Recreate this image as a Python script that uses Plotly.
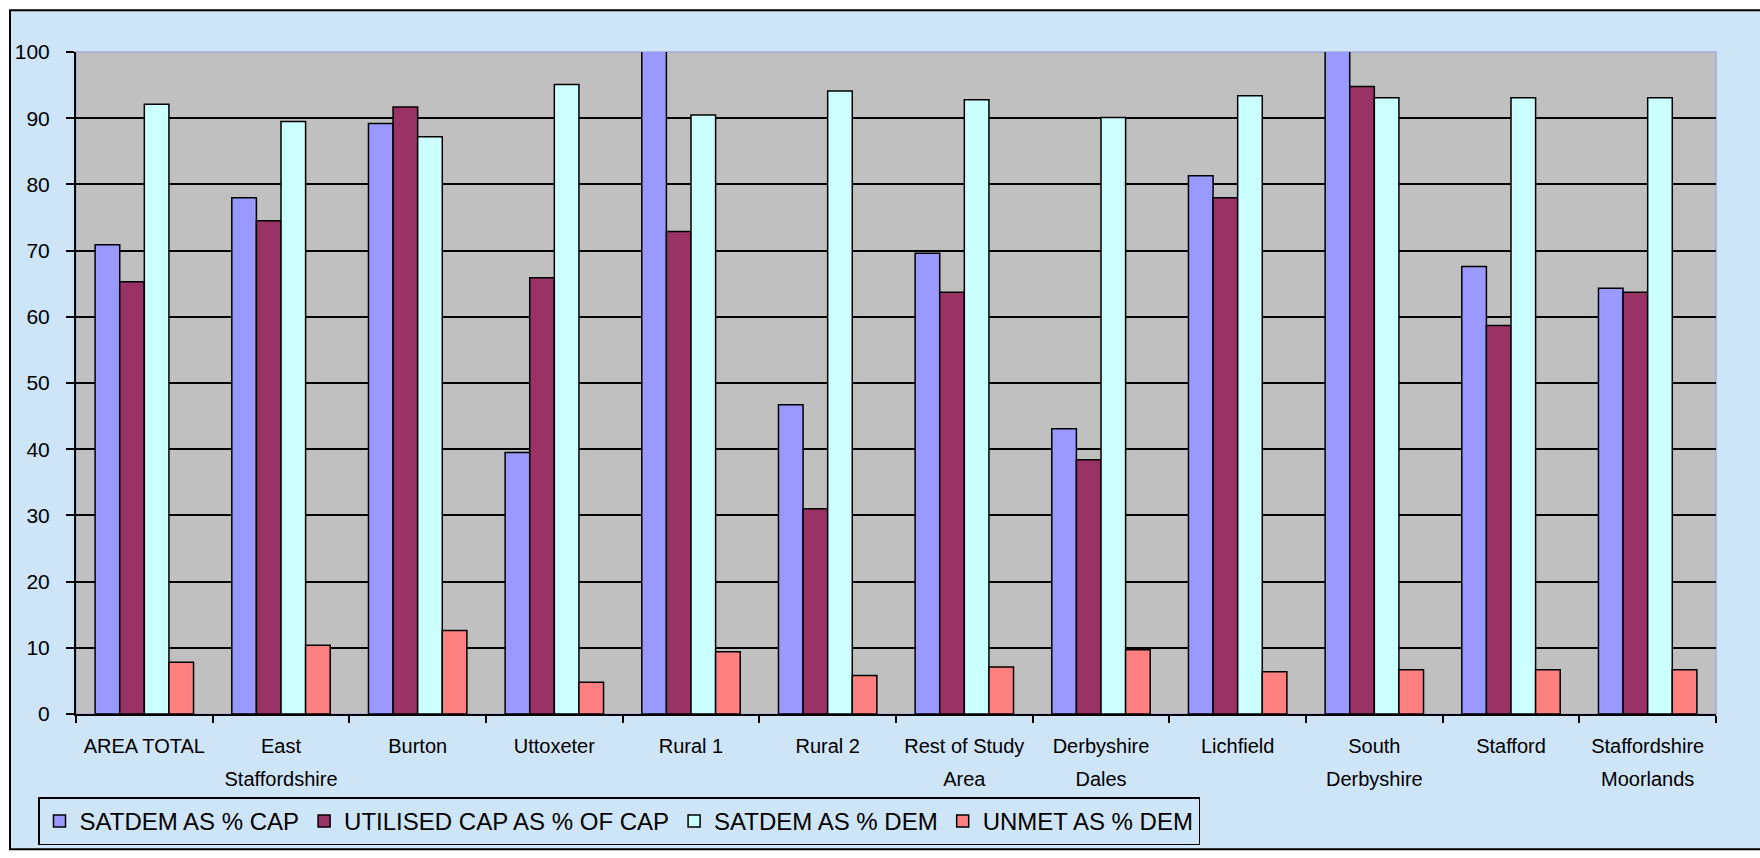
import plotly.graph_objects as go

# Study areas along the x axis
categories = [
    "AREA TOTAL", "East<br>Staffordshire", "Burton", "Uttoxeter", "Rural 1",
    "Rural 2", "Rest of Study<br>Area", "Derbyshire<br>Dales", "Lichfield",
    "South<br>Derbyshire", "Stafford", "Staffordshire<br>Moorlands",
]

# Percentages per area for each series
satdem_cap = [70.9, 78.0, 89.2, 39.5, 100.8, 46.7, 69.6, 43.1, 81.3, 100.8, 67.6, 64.3]
utilised_cap = [65.3, 74.5, 91.7, 65.9, 72.9, 31.0, 63.7, 38.4, 78.0, 94.8, 58.7, 63.7]
satdem_dem = [92.1, 89.5, 87.2, 95.1, 90.5, 94.1, 92.8, 90.1, 93.4, 93.1, 93.1, 93.1]
unmet_dem = [7.8, 10.4, 12.6, 4.8, 9.4, 5.8, 7.1, 9.7, 6.4, 6.7, 6.7, 6.7]

series_names = ["SATDEM AS % CAP", "UTILISED CAP AS % OF CAP", "SATDEM AS % DEM", "UNMET AS % DEM"]
series_values = [satdem_cap, utilised_cap, satdem_dem, unmet_dem]
series_colors = ["#9999FF", "#993366", "#CCFFFF", "#FF8080"]

y_ticks = [0, 10, 20, 30, 40, 50, 60, 70, 80, 90, 100]

FONT = "Liberation Sans, Arial, sans-serif"
CHART_BG = "#CEE4F7"
PLOT_BG = "#C0C0C0"

W, H = 1760, 858
L, R, T, B = 76, 44, 52, 140
pw, ph = W - L - R, H - T - B


def px_x(p):
    return (p - L) / pw


def px_y(p):
    return (H - B - p) / ph


# category labels: 20px glyphs on a wider line pitch
tick_text = [
    "<br>".join("<span style='font-size:20px'>%s</span>" % part for part in c.split("<br>"))
    for c in categories
]

fig = go.Figure()
for name, vals, col in zip(series_names, series_values, series_colors):
    fig.add_trace(go.Bar(
        x=categories, y=vals, name=name,
        marker=dict(color=col, line=dict(color="black", width=1.5)),
        cliponaxis=False,
    ))

shapes = [
    # chart area frame
    dict(type="rect", xref="paper", yref="paper", layer="below",
         x0=px_x(10), x1=px_x(1775), y0=px_y(854), y1=px_y(10),
         fillcolor=CHART_BG, line=dict(color="black", width=2)),
    # grey plot area with pale edge
    dict(type="rect", xref="x domain", yref="y domain", layer="below",
         x0=0, x1=1, y0=0, y1=1, fillcolor=PLOT_BG,
         line=dict(color="#A8A8D8", width=1.5)),
]

fig.update_layout(
    width=W, height=H,
    margin=dict(l=L, r=R, t=T, b=B, pad=0),
    paper_bgcolor="white",
    plot_bgcolor=PLOT_BG,
    font=dict(family=FONT, color="black"),
    barmode="group",
    bargap=0.28,
    bargroupgap=0,
    shapes=shapes,
    showlegend=True,
    legend=dict(
        orientation="h",
        x=px_x(38), y=px_y(802), xanchor="left", yanchor="top",
        bgcolor=CHART_BG, bordercolor="black", borderwidth=1.5,
        font=dict(family=FONT, size=24, color="black"),
        traceorder="normal",
        itemclick=False,
    ),
    xaxis=dict(
        type="category",
        tickmode="array", tickvals=categories, ticktext=tick_text,
        showline=True, linecolor="black", linewidth=2,
        ticks="outside", tickson="boundaries", ticklen=7, tickwidth=2, tickcolor="black",
        tickfont=dict(family=FONT, size=25, color="black"),
        ticklabelstandoff=7,
        showgrid=False,
    ),
    yaxis=dict(
        range=[0, 100],
        tickvals=y_ticks,
        showline=True, linecolor="black", linewidth=2,
        ticks="outside", ticklen=8, tickwidth=2, tickcolor="black",
        tickfont=dict(family=FONT, size=21, color="black"),
        ticklabelstandoff=12,
        showgrid=True, gridcolor="black", gridwidth=2,
        zeroline=False,
    ),
)

fig.write_html("out.html")
